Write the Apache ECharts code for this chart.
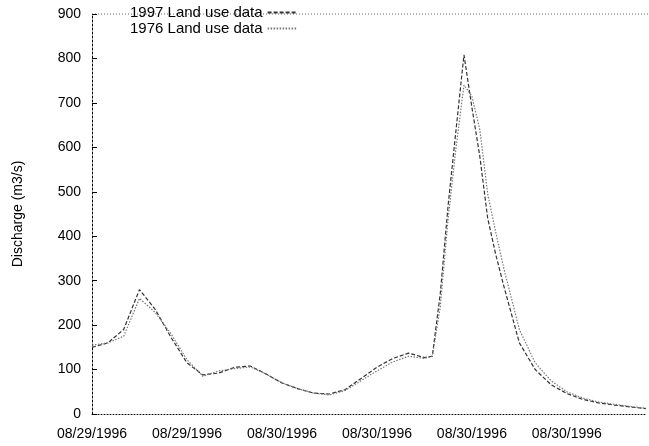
<!DOCTYPE html>
<html><head><meta charset="utf-8">
<script src="https://cdn.jsdelivr.net/npm/echarts@6/dist/echarts.min.js"></script>
<style>html,body{margin:0;padding:0;background:#fff}#c{width:649px;height:446px}</style>
</head><body><div id="c"></div>
<script>
const hours = [0,1,2,3,4,5,6,7,8,9,10,11,12,13,14,15,16,17,18,19,20,21,21.5,22,22.5,23,23.5,24,24.5,25,25.5,26,27,28,29,30,31,32,33,34,35];
const q1997 = [150,160,190,280,235,172,115,88,92,105,108,90,70,57,47,45,55,80,105,125,137,127,130,270,470,640,808,690,580,440,360,290,160,100,66,46,33,25,20,16,12];
const q1976 = [155,160,175,260,228,180,122,85,97,102,106,90,70,57,47,43,53,75,97,117,130,125,130,240,440,600,740,715,640,495,410,330,190,115,75,50,36,27,22,17,13];
const xTickLabels = ['08/29/1996','08/29/1996','08/30/1996','08/30/1996','08/30/1996','08/30/1996'];
const seriesNames = ['1997 Land use data','1976 Land use data'];

const font = 'Liberation Sans, Arial, sans-serif';
const chart = echarts.init(document.getElementById('c'));
chart.setOption({
  animation:false,
  backgroundColor:'#fff',
  grid:{left:92,right:1,top:14,bottom:32},
  legend:{
    orient:'vertical', left:125, top:0, align:'right', itemGap:1,
    itemWidth:30, itemHeight:14,
    textStyle:{fontFamily:font,fontSize:15,color:'#000'},
    itemStyle:{opacity:0},
    data:seriesNames
  },
  xAxis:{
    type:'value', min:0, max:35, interval:6,
    axisLine:{lineStyle:{color:'#000',type:[1,2],width:1}},
    axisTick:{show:false},
    splitLine:{show:false},
    axisLabel:{fontFamily:font,fontSize:14,color:'#000',margin:13,
      formatter:v=> (v%6===0 && xTickLabels[v/6]) ? xTickLabels[v/6] : ''}
  },
  yAxis:{
    type:'value', min:0, max:900, interval:100,
    name:'Discharge (m3/s)', nameLocation:'middle', nameGap:67, nameRotate:90,
    nameTextStyle:{fontFamily:font,fontSize:14,color:'#000'},
    axisLine:{show:true,lineStyle:{color:'#000',type:[2,2],width:1}},
    axisTick:{show:true,inside:true,length:5,lineStyle:{color:'#000'}},
    splitLine:{show:false},
    axisLabel:{fontFamily:font,fontSize:14,color:'#000',margin:11}
  },
  graphic:[{type:'line',shape:{x1:92,y1:14,x2:649,y2:14},style:{stroke:'#666',lineWidth:1,lineDash:[1,2]}}],
  series:[
    {name:seriesNames[0],type:'line',showSymbol:false,symbol:'none',
     data:hours.map((h,i)=>[h,q1997[i]]),
     lineStyle:{color:'#333',width:1.2,type:[4,2]},itemStyle:{color:'#333'}},
    {name:seriesNames[1],type:'line',showSymbol:false,symbol:'none',
     data:hours.map((h,i)=>[h,q1976[i]]),
     lineStyle:{color:'#777',width:1.2,type:[1.5,1.5]},itemStyle:{color:'#777'}}
  ]
});
</script></body></html>
